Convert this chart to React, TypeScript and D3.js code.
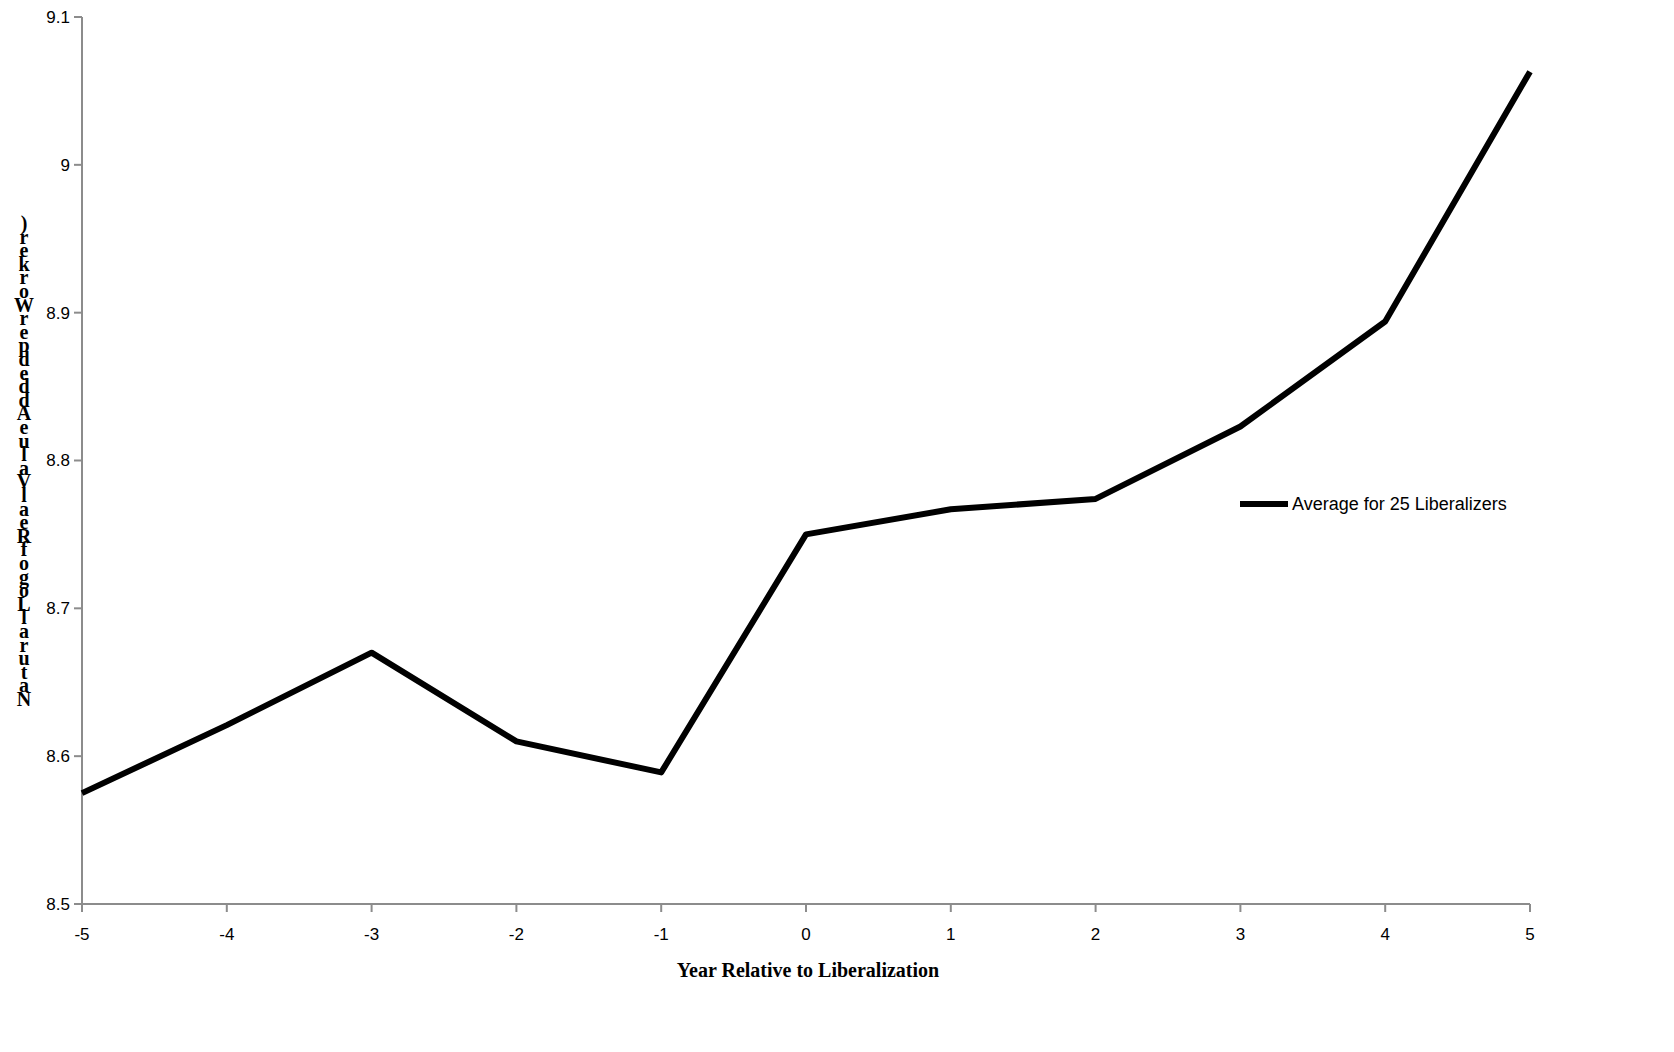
import * as d3 from "d3";

const years = [-5, -4, -3, -2, -1, 0, 1, 2, 3, 4, 5];
const values = [8.575, 8.621, 8.67, 8.61, 8.589, 8.75, 8.767, 8.774, 8.823, 8.894, 9.063];
const yTicks = [8.5, 8.6, 8.7, 8.8, 8.9, 9, 9.1];
const yTitle = "Natural Log of Real Value Added per Worker)";
const seriesName = "Average for 25 Liberalizers";

export default function App() {
  const x = d3.scaleLinear().domain([-5, 5]).range([82, 1530]);
  const y = d3.scaleLinear().domain([8.5, 9.1]).range([904, 17]);
  const line = d3.line<number>().x((_, i) => x(years[i])).y((d) => y(d));
  // stacked, reversed letters as in the original export
  const chars = yTitle.replace(/ /g, "").split("").reverse();
  const axisColor = "#8c8c8c";
  const font = "'Liberation Sans', Arial, sans-serif";

  return (
    <svg width={1658} height={1000} style={{ position: "absolute", left: 0, top: 0 }}>
      <line x1={x(-5)} x2={x(5)} y1={y(8.5)} y2={y(8.5)} stroke={axisColor} strokeWidth={2} />
      <line x1={x(-5)} x2={x(-5)} y1={y(8.5)} y2={y(9.1)} stroke={axisColor} strokeWidth={2} />
      {yTicks.map((t) => (
        <g key={t}>
          <line x1={x(-5) - 8} x2={x(-5)} y1={y(t)} y2={y(t)} stroke={axisColor} strokeWidth={2} />
          <text x={x(-5) - 12} y={y(t)} dy="0.35em" textAnchor="end" fontFamily={font} fontSize={17}>
            {t === 9 ? "9" : t.toFixed(1)}
          </text>
        </g>
      ))}
      {years.map((yr) => (
        <g key={yr}>
          <line x1={x(yr)} x2={x(yr)} y1={y(8.5)} y2={y(8.5) + 8} stroke={axisColor} strokeWidth={2} />
          <text x={x(yr)} y={y(8.5) + 36} textAnchor="middle" fontFamily={font} fontSize={17}>
            {yr}
          </text>
        </g>
      ))}
      <path d={line(values) || ""} fill="none" stroke="#000" strokeWidth={6} strokeLinejoin="round" />
      <line x1={1240} x2={1288} y1={504} y2={504} stroke="#000" strokeWidth={6} />
      <text x={1292} y={504} dy="0.35em" fontFamily={font} fontSize={18}>{seriesName}</text>
      <text x={808} y={977} textAnchor="middle" fontFamily="'Liberation Serif', serif" fontWeight="bold" fontSize={20}>
        Year Relative to Liberalization
      </text>
      <text fontFamily="'Liberation Serif', serif" fontWeight="bold" fontSize={20} textAnchor="middle">
        {chars.map((c, i) => (
          <tspan key={i} x={24} y={230 + i * 13.6}>{c}</tspan>
        ))}
      </text>
    </svg>
  );
}
